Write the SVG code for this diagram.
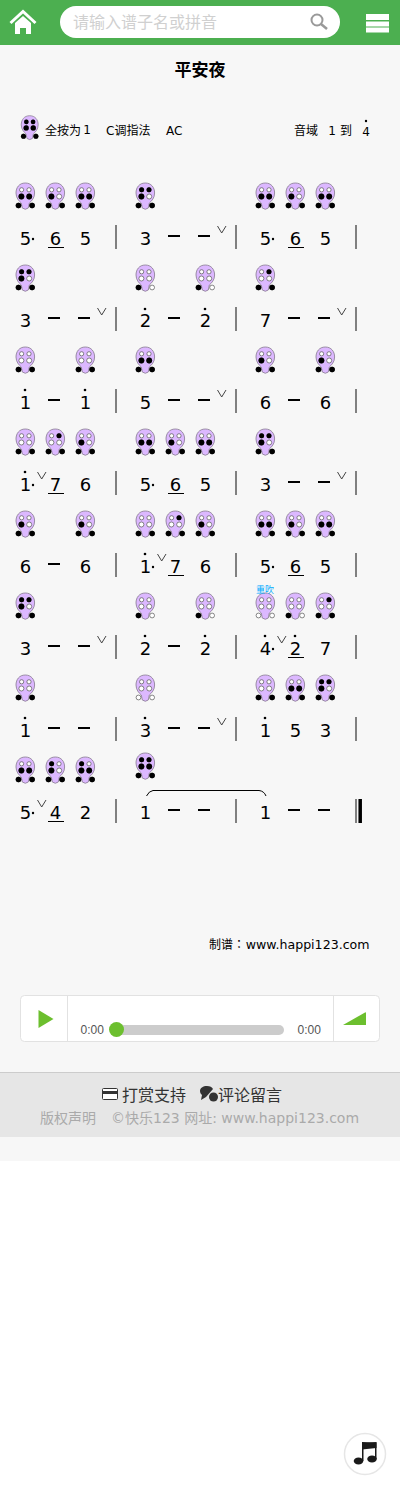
<svg xmlns="http://www.w3.org/2000/svg" width="400" height="1489" viewBox="0 0 400 1489">
<style>
text{font-family:"DejaVu Sans","Noto Sans CJK SC",sans-serif}
.cj{font-family:"Noto Sans CJK SC","DejaVu Sans",sans-serif}
.n{font-size:18px;text-anchor:middle;fill:#000}
.s{font-size:12px;fill:#000}
.bar{stroke:#808080;stroke-width:2}
.dash{stroke:#000;stroke-width:2}
.ul{stroke:#000;stroke-width:1}
.br{fill:none;stroke:#444;stroke-width:1}
.k{fill:#000}.w{fill:#fff;stroke:#555;stroke-width:.7}
.t{font-size:12px;fill:#555;font-family:"Liberation Sans",sans-serif}
</style>
<defs>
<g id="o"><path d="M0 0C6 0 9.300 4.500 9.300 10C9.300 15 6.300 18 4 20L3 25Q0 27.500-3 25L-4 20C-6.300 18-9.300 15-9.300 10C-9.300 4.500-6 0 0 0Z" fill="#dcb8ff" stroke="#857a8e" stroke-width=".8"/>
<circle class="w" cx="-3.700" cy="6.800" r="2.100"/><circle class="w" cx="3.700" cy="6.800" r="2.100"/><circle class="w" cx="-3.900" cy="13.500" r="2.500"/><circle class="w" cx="3.900" cy="13.500" r="2.500"/><circle class="w" cx="-6.800" cy="22.500" r="2.400"/><circle class="w" cx="6.800" cy="22.500" r="2.400"/></g>
<circle id="a" class="k" cx="-3.700" cy="6.800" r="2.500"/><circle id="b" class="k" cx="3.700" cy="6.800" r="2.500"/><circle id="c" class="k" cx="-3.900" cy="13.500" r="2.900"/><circle id="d" class="k" cx="3.900" cy="13.500" r="2.900"/><circle id="e" class="k" cx="-6.800" cy="22.500" r="2.800"/><circle id="f" class="k" cx="6.800" cy="22.500" r="2.800"/>
<g id="n000000"><use href="#o"/></g>
<g id="n000010"><use href="#o"/><use href="#e"/></g>
<g id="n000011"><use href="#o"/><use href="#e"/><use href="#f"/></g>
<g id="n001011"><use href="#n000011"/><use href="#c"/></g>
<g id="n001111"><use href="#n000011"/><use href="#c"/><use href="#d"/></g>
<g id="n010011"><use href="#n000011"/><use href="#b"/></g>
<g id="n111011"><use href="#n001011"/><use href="#a"/><use href="#b"/></g>
<g id="n111111"><use href="#n001111"/><use href="#a"/><use href="#b"/></g>
<g id="n101011"><use href="#n001011"/><use href="#a"/></g>
<g id="n101111"><use href="#n001111"/><use href="#a"/></g>
<path id="v" class="br" d="M0 0L4.200 7L8.500 0"/>
</defs>
<rect width="400" height="1489" fill="#fff"/>
<rect width="400" height="1161" fill="#f7f7f7"/>
<g id="header">
<rect width="400" height="45" fill="#4caf50"/>
<path d="M10.500 23L23 11.500L35.500 23" fill="none" stroke="#fff" stroke-width="3"/>
<path d="M15 23L23 16L31 23V34H26V28H20V34H15Z" fill="#fff"/>
<rect x="60" y="6" width="280" height="32" rx="16" fill="#fff"/>
<text class="cj" x="73" y="28" font-size="16" fill="#d0d0d0">请输入谱子名或拼音</text>
<circle cx="317" cy="20" r="5.500" fill="none" stroke="#999" stroke-width="2"/><path d="M321 24L327 29" stroke="#999" stroke-width="2.500"/>
<path d="M366 14h23v6h-23zM366 21.500h23v5h-23zM366 27.500h23v5h-23z" fill="#fff"/>
</g>
<text class="cj" x="200" y="76" font-size="17" font-weight="700" text-anchor="middle">平安夜</text>
<g id="info">
<use href="#n111111" transform="translate(29.700 115.700) scale(.91)"/>
<text class="s" x="45" y="135">全按为</text><text class="s" x="87" y="134" text-anchor="middle">1</text>
<text class="s" x="106" y="135">C调指法</text><text class="s" x="166" y="135">AC</text>
<text class="s" x="294" y="135">音域</text><text class="s" x="332" y="135" text-anchor="middle">1</text><text class="s" x="340" y="135">到</text>
<text class="s" x="366" y="136" text-anchor="middle">4</text><circle cx="366" cy="121" r="1.200"/>
</g>
<g id="holes">
<use href="#n001111" x="25.300" y="183"/><use href="#n001011" x="55.300" y="183"/><use href="#n001111" x="85.300" y="183"/><use href="#n111011" x="145.300" y="183"/><use href="#n001111" x="265.300" y="183"/><use href="#n001011" x="295.300" y="183"/><use href="#n001111" x="325.300" y="183"/>
<use href="#n111011" x="25.300" y="265"/><use href="#n000010" x="145.300" y="265"/><use href="#n000010" x="205.300" y="265"/><use href="#n010011" x="265.300" y="265"/>
<use href="#n000011" x="25.300" y="347"/><use href="#n000011" x="85.300" y="347"/><use href="#n001111" x="145.300" y="347"/><use href="#n001011" x="265.300" y="347"/><use href="#n001011" x="325.300" y="347"/>
<use href="#n000011" x="25.300" y="429"/><use href="#n010011" x="55.300" y="429"/><use href="#n001011" x="85.300" y="429"/><use href="#n001111" x="145.300" y="429"/><use href="#n001011" x="175.300" y="429"/><use href="#n001111" x="205.300" y="429"/><use href="#n111011" x="265.300" y="429"/>
<use href="#n001011" x="25.300" y="511"/><use href="#n001011" x="85.300" y="511"/><use href="#n000011" x="145.300" y="511"/><use href="#n010011" x="175.300" y="511"/><use href="#n001011" x="205.300" y="511"/><use href="#n001111" x="265.300" y="511"/><use href="#n001011" x="295.300" y="511"/><use href="#n001111" x="325.300" y="511"/>
<use href="#n111011" x="25.300" y="593"/><use href="#n000010" x="145.300" y="593"/><use href="#n000010" x="205.300" y="593"/><use href="#n000000" x="265.300" y="593"/><use href="#n000010" x="295.300" y="593"/><use href="#n010011" x="325.300" y="593"/>
<use href="#n000011" x="25.300" y="675"/><use href="#n000000" x="145.300" y="675"/><use href="#n000011" x="265.300" y="675"/><use href="#n001111" x="295.300" y="675"/><use href="#n111011" x="325.300" y="675"/>
<use href="#n001111" x="25.300" y="757"/><use href="#n101011" x="55.300" y="757"/><use href="#n101111" x="85.300" y="757"/><use href="#n111111" x="145.300" y="753"/>
</g>
<text class="cj" x="256" y="593" font-size="9" fill="#0af">重吹</text>
<g id="score">
<g>
<text class="n" x="25.500" y="245">5</text><text class="n" x="55.500" y="245">6</text><text class="n" x="85.500" y="245">5</text><text class="n" x="145.500" y="245">3</text><text class="n" x="265.500" y="245">5</text><text class="n" x="295.500" y="245">6</text><text class="n" x="325.500" y="245">5</text>
<text class="n" x="25.500" y="327">3</text><text class="n" x="145.500" y="327">2</text><text class="n" x="205.500" y="327">2</text><text class="n" x="265.500" y="327">7</text>
<text class="n" x="25.500" y="409">1</text><text class="n" x="85.500" y="409">1</text><text class="n" x="145.500" y="409">5</text><text class="n" x="265.500" y="409">6</text><text class="n" x="325.500" y="409">6</text>
<text class="n" x="25.500" y="491">1</text><text class="n" x="55.500" y="491">7</text><text class="n" x="85.500" y="491">6</text><text class="n" x="145.500" y="491">5</text><text class="n" x="175.500" y="491">6</text><text class="n" x="205.500" y="491">5</text><text class="n" x="265.500" y="491">3</text>
<text class="n" x="25.500" y="573">6</text><text class="n" x="85.500" y="573">6</text><text class="n" x="145.500" y="573">1</text><text class="n" x="175.500" y="573">7</text><text class="n" x="205.500" y="573">6</text><text class="n" x="265.500" y="573">5</text><text class="n" x="295.500" y="573">6</text><text class="n" x="325.500" y="573">5</text>
<text class="n" x="25.500" y="655">3</text><text class="n" x="145.500" y="655">2</text><text class="n" x="205.500" y="655">2</text><text class="n" x="265.500" y="655">4</text><text class="n" x="295.500" y="655">2</text><text class="n" x="325.500" y="655">7</text>
<text class="n" x="25.500" y="737">1</text><text class="n" x="145.500" y="737">3</text><text class="n" x="265.500" y="737">1</text><text class="n" x="295.500" y="737">5</text><text class="n" x="325.500" y="737">3</text>
<text class="n" x="25.500" y="819">5</text><text class="n" x="55.500" y="819">4</text><text class="n" x="85.500" y="819">2</text><text class="n" x="145.500" y="819">1</text><text class="n" x="265.500" y="819">1</text>
</g>
<g id="bars" class="bar">
<path d="M116 225v24M236 225v24M356 225v24M116 307v24M236 307v24M356 307v24M116 389v24M236 389v24M356 389v24M116 471v24M236 471v24M356 471v24M116 553v24M236 553v24M356 553v24M116 635v24M236 635v24M356 635v24M116 717v24M236 717v24M356 717v24M116 799v24M236 799v24M356 799v24"/>
</g>
<path d="M360.200 799v24" stroke="#000" stroke-width="3.500"/>
<path class="dash" d="M168 236h12M198 236h12M48 318h12M78 318h12M168 318h12M288 318h12M318 318h12M48 400h12M168 400h12M198 400h12M288 400h12M288 482h12M318 482h12M48 564h12M168 646h12M48 646h12M78 646h12M48 728h12M78 728h12M168 728h12M198 728h12M168 810h12M198 810h12M288 810h12M318 810h12"/>
<path class="ul" d="M48 247.500h16M288 247.500h16M48 493.500h16M168 493.500h16M168 575.500h16M288 575.500h16M288 657.500h16M48 821.500h16"/>
<g id="highdots">
<circle cx="145" cy="309" r="1.300"/><circle cx="205" cy="309" r="1.300"/>
<circle cx="25" cy="390" r="1.300"/><circle cx="85" cy="390" r="1.300"/>
<circle cx="25" cy="472" r="1.300"/><circle cx="145" cy="554" r="1.300"/>
<circle cx="145" cy="636" r="1.300"/><circle cx="205" cy="636" r="1.300"/><circle cx="265" cy="636" r="1.300"/><circle cx="295" cy="636" r="1.300"/>
<circle cx="25" cy="718" r="1.300"/><circle cx="145" cy="718" r="1.300"/><circle cx="265" cy="718" r="1.300"/>
</g>
<g id="augdots">
<circle cx="33" cy="239" r="1.200"/><circle cx="273" cy="239" r="1.200"/><circle cx="33" cy="485" r="1.200"/><circle cx="153" cy="485" r="1.200"/><circle cx="153" cy="567" r="1.200"/><circle cx="273" cy="567" r="1.200"/><circle cx="273" cy="649" r="1.200"/><circle cx="33" cy="813" r="1.200"/>
</g>
<g id="breaths">
<use href="#v" x="217.500" y="226"/><use href="#v" x="97.500" y="308"/><use href="#v" x="337.500" y="308"/><use href="#v" x="217.500" y="390"/><use href="#v" x="37.500" y="472"/><use href="#v" x="337.500" y="472"/><use href="#v" x="157.500" y="554"/><use href="#v" x="97.500" y="636"/><use href="#v" x="277.500" y="636"/><use href="#v" x="217.500" y="718"/><use href="#v" x="37.500" y="800"/>
</g>
<path d="M146.500 796Q149 791 153 790.500H259Q264 791 266 796" fill="none" stroke="#000" stroke-width="1"/>
</g>
<text x="209" y="949" font-size="12" fill="#000">制谱<tspan font-family="Noto Sans CJK TC">：</tspan></text>
<text x="245.700" y="949" font-size="12.600" fill="#000">www.happi123.com</text>
<g id="player">
<rect x="20.500" y="995.500" width="359" height="46" rx="4" fill="#fff" stroke="#e2e2e2"/>
<path d="M67.500 996v45M333.500 996v45" stroke="#e2e2e2"/>
<path d="M38.500 1010L53.500 1019L38.500 1028Z" fill="#6cbf2e"/>
<text class="t" x="80.500" y="1034">0:00</text>
<rect x="110" y="1025" width="174" height="10" rx="5" fill="#ccc"/>
<circle cx="116.500" cy="1029.500" r="7.500" fill="#6cbf2e"/>
<text class="t" x="297.500" y="1034">0:00</text>
<path d="M343 1025L365 1012.500Q366 1012 366 1013V1025Z" fill="#6cbf2e"/>
</g>
<g id="footer">
<rect y="1072" width="400" height="65" fill="#e6e6e6"/>
<rect y="1072" width="400" height="1" fill="#ccc"/>
<rect x="102.500" y="1088.500" width="15" height="11" rx="1" fill="#fff" stroke="#333"/><rect x="103" y="1091" width="14" height="3" fill="#333"/>
<text class="cj" x="122" y="1101" font-size="16" fill="#333">打赏支持</text>
<path d="M207 1086C203 1086 200 1088 200 1091C200 1093 201 1094 202 1095L201 1100L206 1097L213 1089C212 1087 210 1086 207 1086Z" fill="#333"/><circle cx="213.500" cy="1097" r="4.500" fill="#333"/>
<text class="cj" x="218" y="1101" font-size="16" fill="#333">评论留言</text>
<text x="40" y="1123" font-size="14" fill="#aaa">版权声明</text>
<text x="111" y="1123" font-size="14" fill="#aaa">©快乐123 网址: www.happi123.com</text>
</g>
<g id="music">
<circle cx="365" cy="1454" r="20.500" fill="#fff" stroke="#e6e6e6" stroke-width="1.500"/>
<path d="M362 1442L376.500 1442.500V1459H375V1446.500L363.500 1448V1461H362Z" fill="#1a1a1a"/><path d="M362 1443.500L376.500 1442V1448L362 1449.500Z" fill="#1a1a1a"/>
<ellipse cx="358.500" cy="1461" rx="4.800" ry="3.500" fill="#1a1a1a"/><ellipse cx="372" cy="1459" rx="4.800" ry="3.500" fill="#1a1a1a"/>
</g>
</svg>
